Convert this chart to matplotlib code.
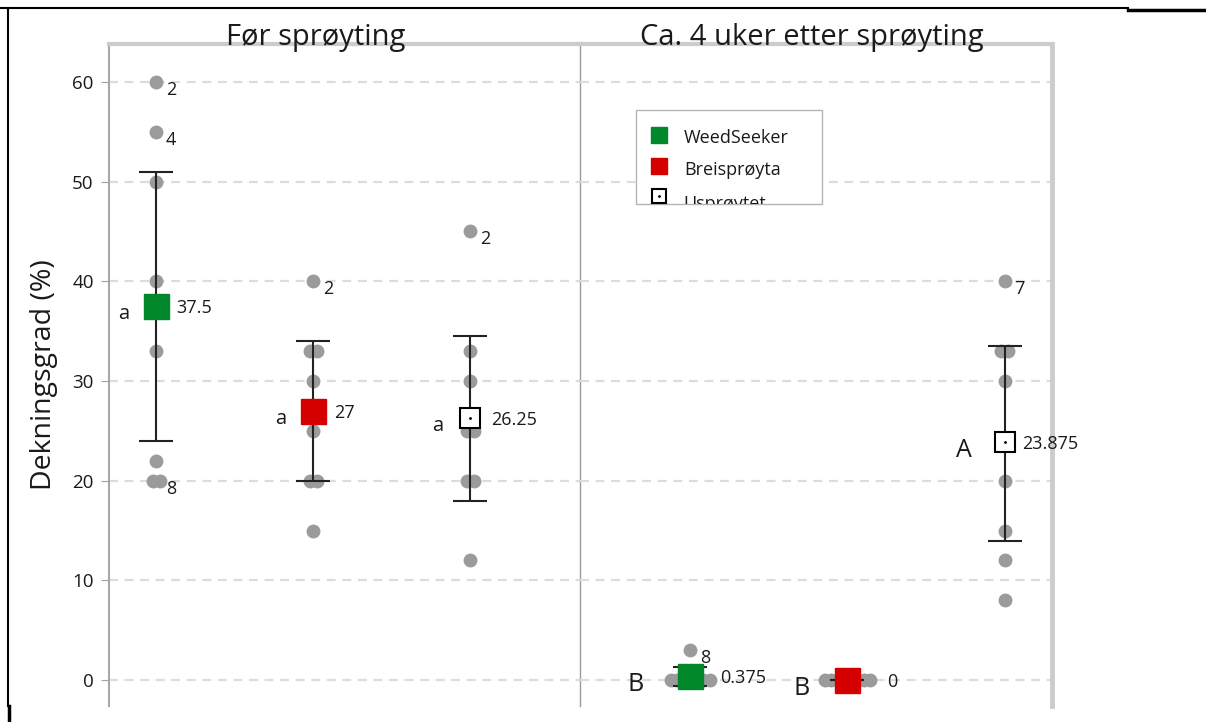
import numpy as np
import matplotlib.pyplot as plt
from matplotlib.patches import Rectangle
from matplotlib.lines import Line2D
from matplotlib.transforms import Bbox, TransformedBbox

plt.rcParams['font.family'] = ['Open Sans', 'DejaVu Sans']

# Data
groups = ['WeedSeeker', 'Breisprøyta', 'Usprøytet']
periods = ['Før sprøyting', 'Ca. 4 uker etter sprøyting']

# observed coverage per plot (%)
obs_before = [
    [60, 55, 50, 40, 33, 22, 20, 20],
    [40, 33, 33, 30, 25, 20, 20, 15],
    [45, 33, 30, 25, 25, 20, 20, 12],
]
obs_after = [
    [3, 0, 0, 0, 0, 0, 0, 0],
    [0, 0, 0, 0, 0, 0, 0, 0],
    [40, 33, 33, 30, 20, 15, 12, 8],
]
means_before = [37.5, 27, 26.25]
means_after = [0.375, 0, 23.875]
lo_before = [24, 20, 18]
hi_before = [51, 34, 34.5]
lo_after = [-0.6, 0, 14]
hi_after = [1.35, 0, 33.5]
letters_before = ['a', 'a', 'a']
letters_after = ['B', 'B', 'A']
# (value, plot id) labels next to single points
ids_before = [[(60, '2'), (55, '4'), (20, '8')], [(40, '2')], [(45, '2')]]
ids_after = [[(3, '8')], [], [(40, '7')]]

colors = ['#00882b', '#d40000', 'white']
dot_color = '#9b9b9b'
txt = '#1a1a1a'

fig = plt.figure(figsize=(12.06, 7.22), dpi=100)
W, H = 1206, 722


def fx(px):
    return px / W


def fy(py):
    return 1 - py / H


ax1 = fig.add_axes([fx(109), fy(706), fx(580 - 109), (706 - 44) / H])
ax2 = fig.add_axes([fx(580), fy(706), fx(1052 - 580), (706 - 44) / H], sharey=ax1)
ax1.set_xlim(0.70, 3.70)
ax2.set_xlim(0.30, 3.30)
ax1.set_ylim(-2.6, 63.8)
px_per_unit = 157.0


def draw_panel(ax, obs, means, lo, hi, letters, ids, letter_size, letter_dx, value_dx):
    for i, vals in enumerate(obs):
        x = i + 1
        vals = np.array(vals, dtype=float)
        xs = np.full(len(vals), float(x))
        for v in np.unique(vals):
            idx = np.where(vals == v)[0]
            n = len(idx)
            step = 6.5 if n > 2 else 7
            xs[idx] = x + (np.arange(n) - (n - 1) / 2) * step / px_per_unit
        ax.scatter(xs, vals, s=100, color=dot_color, linewidths=0, zorder=2)
        m = means[i]
        ax.errorbar(x, m, yerr=[[m - lo[i]], [hi[i] - m]], fmt='none', ecolor='#222222',
                    elinewidth=1.5, capsize=12, capthick=1.5, zorder=3)
        if colors[i] == 'white':
            ax.plot(x, m, marker='s', ms=15, mfc='white', mec='black', mew=1.5, zorder=4)
            ax.plot(x, m, marker='.', ms=2, color='black', zorder=5)
        else:
            ax.plot(x, m, marker='s', ms=18, mfc=colors[i], mec=colors[i], zorder=4)
        ax.annotate(f'{m:g}', (x, m), xytext=(value_dx[i], -2), textcoords='offset pixels',
                    ha='left', va='center', fontsize=13, color=txt, zorder=6)
        ax.annotate(letters[i], (x, m), xytext=(letter_dx[i], -8), textcoords='offset pixels',
                    ha='right', va='center', fontsize=letter_size, color=txt, zorder=6)
        for v, t in ids[i]:
            ax.annotate(t, (x, v), xytext=(15, -8), textcoords='offset pixels',
                        ha='center', va='center', fontsize=13, color=txt, zorder=6)


draw_panel(ax1, obs_before, means_before, lo_before, hi_before, letters_before, ids_before,
           14.5, [-27, -27, -27], [20, 21, 21])
draw_panel(ax2, obs_after, means_after, lo_after, hi_after, letters_after, ids_after,
           18, [-46, -38, -33], [30, 40, 17])

for ax in (ax1, ax2):
    ax.set_facecolor('none')
    ax.set_yticks(range(0, 61, 10))
    ax.set_xticks([])
    ax.yaxis.grid(True, linestyle=(0, (4, 3)), color='#dcdcdc', linewidth=1.6)
    ax.set_axisbelow(True)
    ax.spines['bottom'].set_visible(False)
    ax.spines['top'].set_color('#cccccc')
    ax.spines['top'].set_linewidth(3)

ax1.spines['left'].set_color('#a8a8a8')
ax1.spines['left'].set_linewidth(1.5)
ax1.spines['right'].set_color('#9a9a9a')
ax1.spines['right'].set_linewidth(1)
ax2.spines['left'].set_visible(False)
ax2.spines['right'].set_color('#cccccc')
ax2.spines['right'].set_linewidth(3.5)

ax1.tick_params(axis='y', length=6, color='#a0a0a0', labelsize=13.5, labelcolor=txt, pad=5)
ax2.tick_params(axis='y', length=0, labelleft=False)
ax1.set_ylabel('Dekningsgrad (%)', fontsize=20.5, color=txt, labelpad=10)

fig.text(fx(316), fy(37), periods[0], ha='center', va='center', fontsize=21, color=txt)
fig.text(fx(812), fy(37), periods[1], ha='center', va='center', fontsize=21, color=txt)

# legend box (bottom entry clipped, as in the original)
lx, ly, lw_, lh = 0.119, 0.758, 0.394, 0.142
box = Rectangle((lx, ly), lw_, lh, transform=ax2.transAxes,
                facecolor='white', edgecolor='#b4b4b4', linewidth=1, zorder=7)
ax2.add_patch(box)
clip = TransformedBbox(Bbox.from_bounds(lx, ly, lw_, lh), ax2.transAxes)
marker_rows = [0.863, 0.816, 0.770]
text_rows = [0.858, 0.810, 0.759]
for i, g in enumerate(groups):
    if colors[i] == 'white':
        mk = ax2.plot(0.167, marker_rows[i], transform=ax2.transAxes, marker='s', ms=10,
                      mfc='white', mec='black', mew=1.5, zorder=8)
        mk += ax2.plot(0.167, marker_rows[i], transform=ax2.transAxes, marker='.', ms=2,
                       color='black', zorder=9)
    else:
        mk = ax2.plot(0.167, marker_rows[i], transform=ax2.transAxes, marker='s', ms=11.5,
                      mfc=colors[i], mec=colors[i], zorder=8)
    for a in mk:
        a.set_clip_box(clip)
    t = ax2.text(0.220, text_rows[i], g, transform=ax2.transAxes, ha='left', va='center',
                 fontsize=13, color=txt, zorder=8, clip_on=True)
    t.set_clip_box(clip)

# black frame edges of the screenshot
fig.add_artist(Line2D([0, fx(1128)], [fy(8), fy(8)], color='black', lw=1.5))
fig.add_artist(Line2D([fx(1128), 1], [fy(10), fy(10)], color='black', lw=2.5))
fig.add_artist(Line2D([fx(8), fx(8)], [fy(8), fy(706)], color='black', lw=1.5))
fig.add_artist(Line2D([fx(9), fx(9)], [fy(706), 0], color='black', lw=2.5))

fig.savefig('out.png', dpi=100)
